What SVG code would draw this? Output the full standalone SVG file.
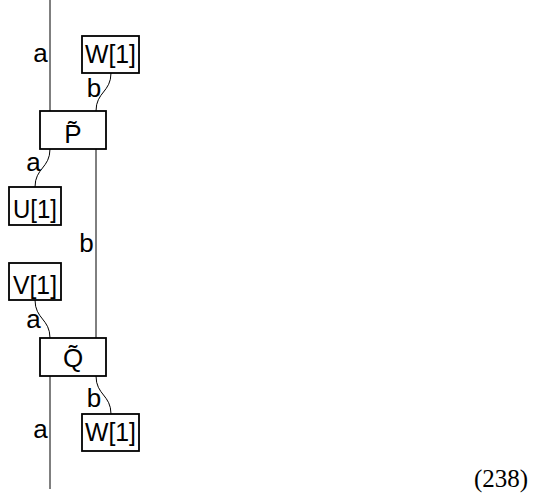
<svg xmlns="http://www.w3.org/2000/svg" width="535" height="500" viewBox="0 0 535 500">
<style>
.box{fill:#fff;stroke:#000;stroke-width:1.8}
.w{fill:none;stroke:#000;stroke-width:1}
.t{font-family:"Liberation Sans","DejaVu Sans",sans-serif;font-size:26px;fill:#000}
.m{text-anchor:middle}
.eq{font-family:"Liberation Serif",serif;font-size:25px;fill:#000}
</style>
<g id="connectors">
<path class="w" d="M50,0 V111"/>
<path class="w" d="M111,73 C111,92 96,92 96,111"/>
<path class="w" d="M50,149 C50,168 35,168 35,187"/>
<path class="w" d="M96,149 V338"/>
<path class="w" d="M35,300 C35,319 50,319 50,338"/>
<path class="w" d="M50,376 V489"/>
<path class="w" d="M96,376 C96,395 111,395 111,414"/>
<text class="t m" x="40.5" y="62">a</text>
<text class="t m" x="94" y="97">b</text>
<text class="t m" x="33.5" y="171">a</text>
<text class="t m" x="86.5" y="252">b</text>
<text class="t m" x="33.5" y="328">a</text>
<text class="t m" x="94" y="407">b</text>
<text class="t m" x="40.5" y="438">a</text>
</g>
<g id="W1top"><rect class="box" x="82" y="36" width="57" height="37"/><text class="t m" x="110.5" y="63" textLength="51" lengthAdjust="spacingAndGlyphs">W[1]</text></g>
<g id="P"><rect class="box" x="40" y="111" width="66" height="38"/><text class="t m" x="73" y="143">P̃</text></g>
<g id="U1"><rect class="box" x="9" y="187" width="52" height="38"/><text class="t m" x="35" y="218" textLength="44" lengthAdjust="spacingAndGlyphs">U[1]</text></g>
<g id="V1"><rect class="box" x="9" y="263" width="52" height="37"/><text class="t m" x="35" y="294" textLength="44" lengthAdjust="spacingAndGlyphs">V[1]</text></g>
<g id="Q"><rect class="box" x="40" y="338" width="66" height="38"/><text class="t m" x="73" y="367">Q̃</text></g>
<g id="W1bottom"><rect class="box" x="82" y="414" width="57" height="37"/><text class="t m" x="110.5" y="441" textLength="51" lengthAdjust="spacingAndGlyphs">W[1]</text></g>
<text class="eq" x="474" y="487">(238)</text>
</svg>
